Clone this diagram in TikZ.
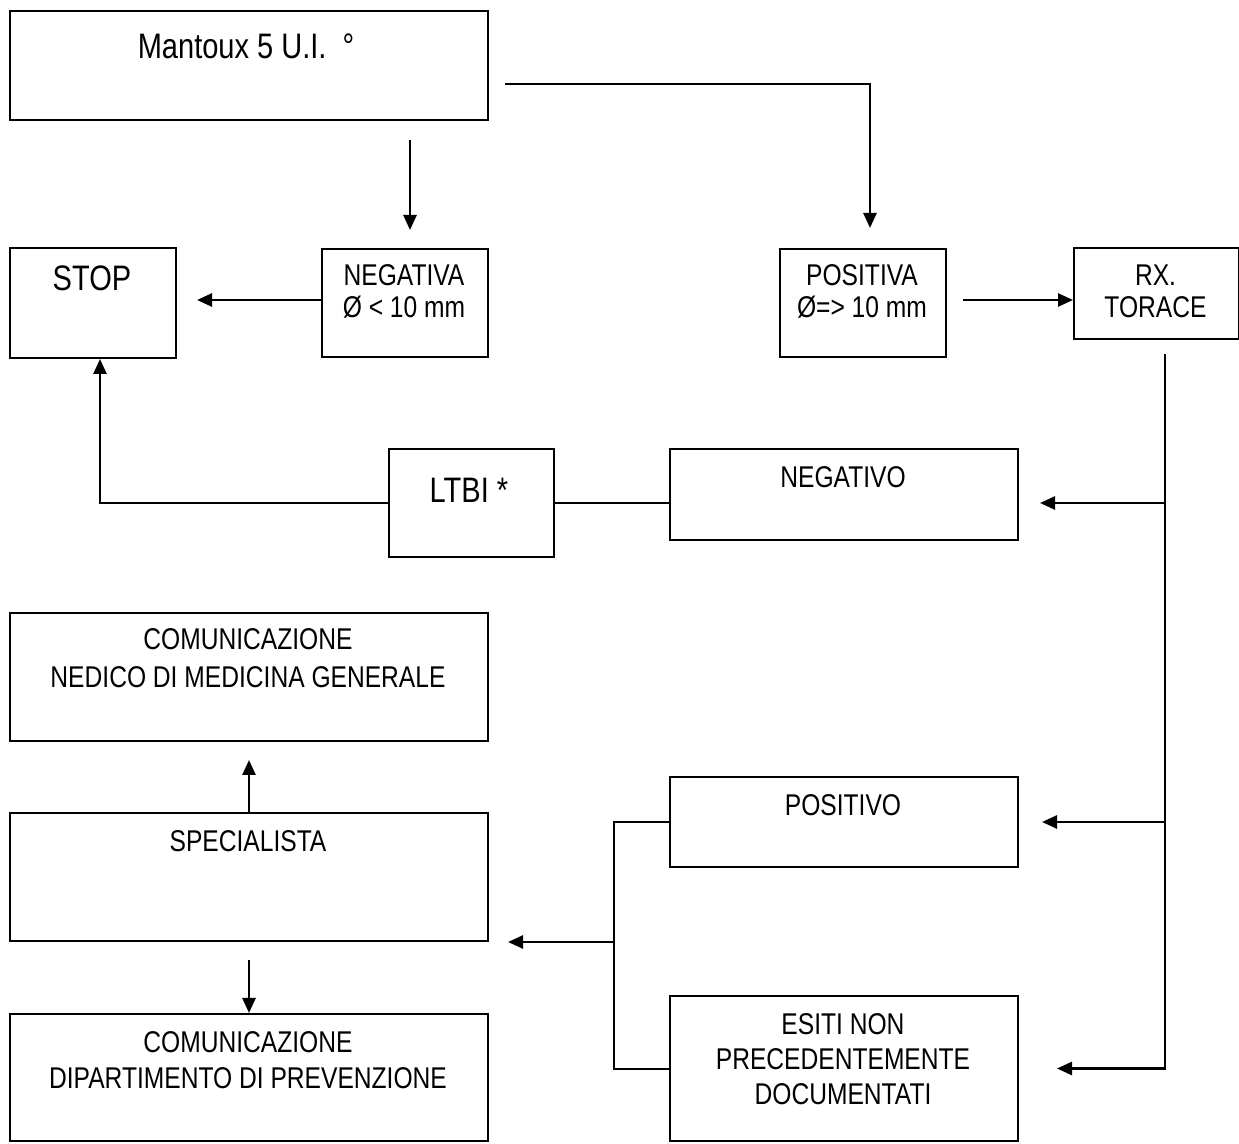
\documentclass[tikz,border=0pt]{standalone}
\usepackage{fontspec}
\setmainfont{Liberation Sans}[FakeStretch=0.82]
\usetikzlibrary{positioning, arrows.meta, calc}

\begin{document}
\begin{tikzpicture}[x=0.5pt, y=-0.5pt,
    box/.style 2 args={draw, line width=1pt, anchor=north west, inner sep=0pt,
        minimum width=#1*0.5pt, minimum height=#2*0.5pt},
    lbl/.style={font=\fontsize{15}{18}\selectfont, align=center, anchor=base, inner sep=0pt},
    biglbl/.style={lbl, font=\fontsize{17.7}{21}\selectfont},
    arr/.style={-{Triangle[length=7.5pt,width=6.5pt]}, line width=1.3pt},
    link/.style={line width=1pt},
]
    \useasboundingbox (0,0) rectangle (1239,1144);

    % Test
    \node[box={478}{109}] (mantoux) at (9,10) {};
    \node[biglbl] (mantoux-t) at (246,59) {Mantoux 5 U.I.\hspace{8pt}°};

    % Esito
    \node[box={166}{110}] (stop) at (9,247) {};
    \node[biglbl] (stop-t) at (92,291) {STOP};
    \node[box={166}{108}] (negativa) at (321,248) {};
    \node[lbl, font=\fontsize{15}{16}\selectfont] (negativa-t) at (404,318) {NEGATIVA\\Ø < 10 mm};
    \node[box={166}{108}] (positiva) at (779,248) {};
    \node[lbl, font=\fontsize{15}{16}\selectfont] (positiva-t) at (862,318) {POSITIVA\\Ø=> 10 mm};
    \node[box={165}{91}] (rx) at (1073,247) {};
    \node[lbl, font=\fontsize{15}{16}\selectfont] (rx-t) at (1155.5,318) {RX.\\TORACE};

    % Rx negativo
    \node[box={165}{108}] (ltbi) at (388,448) {};
    \node[biglbl] (ltbi-t) at (469,503) {LTBI *};
    \node[box={348}{91}] (negativo) at (669,448) {};
    \node[lbl] (negativo-t) at (843,488) {NEGATIVO};

    % Rx positivo
    \node[box={478}{128}] (nedico) at (9,612) {};
    \node[lbl, font=\fontsize{15}{19}\selectfont] (nedico-t) at (248,688)
        {COMUNICAZIONE\\NEDICO DI MEDICINA GENERALE};
    \node[box={478}{128}] (specialista) at (9,812) {};
    \node[lbl] (specialista-t) at (248,852) {SPECIALISTA};
    \node[box={478}{127}] (dipartimento) at (9,1013) {};
    \node[lbl] (dipartimento-t) at (248,1088)
        {COMUNICAZIONE\\DIPARTIMENTO DI PREVENZIONE};
    \node[box={348}{90}] (positivo) at (669,776) {};
    \node[lbl] (positivo-t) at (843,816) {POSITIVO};
    \node[box={348}{145}] (esiti) at (669,995) {};
    \node[lbl, font=\fontsize{15}{17.5}\selectfont] (esiti-t) at (843,1104)
        {ESITI NON\\PRECEDENTEMENTE\\DOCUMENTATI};

    % Connectors
    \coordinate (mv) at (410,0);
    \coordinate (pstart) at (505,84);
    \coordinate (pbend) at (870,84);
    \coordinate (row) at (0,300);
    \coordinate (rv) at (1165,0);
    \coordinate (sv) at (100,0);
    \coordinate (bv) at (614,0);

    \draw[arr, shorten <=9.5pt, shorten >=9pt] (mantoux.south -| mv) -- (negativa.north -| mv);
    \draw[arr, shorten >=10pt] (pstart) -- (pbend) -- (positiva.north -| pbend);
    \draw[arr, shorten >=10pt] (negativa.west |- row) -- (stop.east |- row);
    \draw[arr, shorten <=8pt] (positiva.east |- row) -- (rx.west |- row);

    \draw[arr, shorten <=7pt, shorten >=19pt] (rx.south -| rv) -- (esiti.east -| rv) -- (esiti.east);
    \draw[arr, shorten >=10.5pt] (ltbi.east -| rv) -- (ltbi.east -| negativo.east);
    \draw[arr, shorten >=11.5pt] (positivo.east -| rv) -- (positivo.east);

    \draw[link] (ltbi.east) -- (ltbi.east -| negativo.west);
    \draw[arr] (ltbi.west) -| (stop.south -| sv);

    \draw[arr, shorten >=9pt] (specialista.north) -- (nedico.south);
    \draw[arr, shorten <=9pt] (specialista.south) -- (dipartimento.north);

    \draw[link] (positivo.west) -| (bv |- esiti.west) -- (esiti.west);
    \draw[arr, shorten >=9.5pt] (specialista.south east -| bv) -- (specialista.south east);
\end{tikzpicture}
\end{document}
